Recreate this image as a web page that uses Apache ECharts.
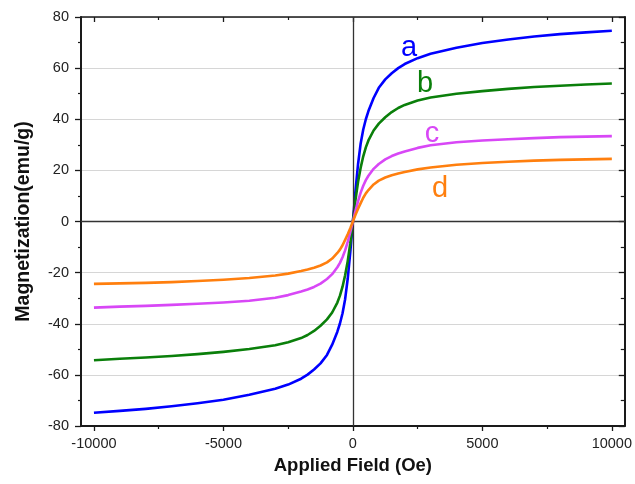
<!DOCTYPE html>
<html>
<head>
<meta charset="utf-8">
<script src="https://cdn.jsdelivr.net/npm/echarts@6/dist/echarts.min.js"></script>
<style>html,body{margin:0;padding:0;background:#fff}#c{width:635px;height:484px}</style>
</head>
<body>
<div id="c"></div>
<script>
// Field values (Oe)
var fields = [-10000,-9000,-8000,-7000,-6000,-5000,-4000,-3000,-2500,-2000,-1750,-1500,-1250,-1000,-800,-600,-500,-400,-300,-200,-100,0,
              100,200,300,400,500,600,800,1000,1250,1500,1750,2000,2500,3000,4000,5000,6000,7000,8000,9000,10000];
// Magnetization (emu/g) per sample
var seriesA = [-74.8,-74.1,-73.3,-72.3,-71.1,-69.7,-67.8,-65.4,-63.8,-61.5,-59.9,-57.9,-55.5,-52.2,-48.2,-43.1,-39.9,-35.9,-30.4,-22.4,-11.9,0,
               12.0,22.5,30.5,36.0,40.0,43.2,48.3,52.3,55.6,58.0,60.0,61.6,63.9,65.6,68.0,69.8,71.2,72.4,73.3,74.0,74.6];
var seriesB = [-54.3,-53.7,-53.2,-52.6,-51.9,-51.0,-49.9,-48.4,-47.2,-45.6,-44.4,-42.8,-40.8,-38.3,-35.6,-31.7,-29.0,-25.5,-21.0,-15.5,-8.5,0,
               8.5,15.5,21.0,25.5,29.0,31.7,35.6,38.3,40.8,42.8,44.4,45.6,47.3,48.5,50.0,51.0,51.9,52.6,53.1,53.6,54.0];
var seriesC = [-33.7,-33.3,-33.0,-32.6,-32.2,-31.7,-31.0,-29.8,-28.8,-27.4,-26.6,-25.6,-24.3,-22.5,-20.6,-17.9,-16.2,-14.0,-11.3,-8.0,-4.2,0,
               4.2,8.0,11.3,14.0,16.2,17.9,20.6,22.5,24.3,25.6,26.6,27.4,28.8,29.8,31.0,31.7,32.2,32.6,33.0,33.2,33.4];
var seriesD = [-24.4,-24.2,-24.0,-23.7,-23.3,-22.8,-22.1,-21.1,-20.4,-19.4,-18.8,-18.1,-17.2,-16.0,-14.5,-12.3,-11.0,-9.3,-7.2,-5.0,-2.6,0,
               2.6,5.0,7.2,9.3,11.0,12.3,14.5,16.0,17.2,18.1,18.8,19.4,20.4,21.1,22.2,22.9,23.4,23.8,24.1,24.3,24.5];
var seriesNames = ['a','b','c','d'];
var seriesColors = ['#0000ff','#0a7f0a','#d847f6','#ff7f0e'];
// Tick values
var xMajorTicks = [-10000,-5000,0,5000,10000];
var xMinorTicks = [-7500,-2500,2500,7500];

function pairs(ys){ return fields.map(function(x,i){ return [x, ys[i]]; }); }

var chart = echarts.init(document.getElementById('c'), null, {renderer:'canvas'});
var axisColor = '#1a1a1a';
var font = 'Liberation Sans, Arial, sans-serif';
var lineSeries = [seriesA, seriesB, seriesC, seriesD].map(function(ys, i){
  return {
    type:'line', name:seriesNames[i], data:pairs(ys), showSymbol:false, symbol:'none',
    smooth:false, lineStyle:{color:seriesColors[i], width:2.6, join:'round'}, itemStyle:{color:seriesColors[i]},
    z:3 + i, animation:false
  };
});
lineSeries.unshift({
  type:'line', data:[], z:1, silent:true, animation:false,
  markLine:{silent:true, symbol:'none', animation:false, label:{show:false},
    lineStyle:{color:'#333333', width:1.3, type:'solid'},
    data:[{xAxis:0},{yAxis:0}]}
});

var plainNum = function(v){ return String(v); };

var option = {
  animation:false,
  backgroundColor:'#ffffff',
  grid:{left:81, right:9, top:17, bottom:58, containLabel:false},
  xAxis:[
    {type:'value', min:-10500, max:10500, position:'bottom',
     name:'Applied Field (Oe)', nameLocation:'middle', nameGap:30,
     nameTextStyle:{fontFamily:font, fontWeight:'bold', fontSize:18.5, color:'#111'},
     axisLine:{show:true, onZero:false, lineStyle:{color:axisColor, width:2}},
     axisTick:{show:true, inside:false, length:5, customValues:xMajorTicks, lineStyle:{color:axisColor, width:1.3}},
     axisLabel:{show:true, customValues:xMajorTicks, formatter:plainNum, margin:10, fontFamily:font, fontSize:14.5, color:'#222'},
     splitLine:{show:false}},
    {type:'value', min:-10500, max:10500, position:'bottom',
     axisLine:{show:false, onZero:false},
     axisTick:{show:true, inside:false, length:3, customValues:xMinorTicks, lineStyle:{color:axisColor, width:1.2}},
     axisLabel:{show:false}, splitLine:{show:false}},
    {type:'value', min:-10500, max:10500, position:'top',
     axisLine:{show:true, onZero:false, lineStyle:{color:axisColor, width:1.6}},
     axisTick:{show:true, inside:true, length:5, customValues:xMajorTicks, lineStyle:{color:axisColor, width:1.3}},
     axisLabel:{show:false}, splitLine:{show:false}},
    {type:'value', min:-10500, max:10500, position:'top',
     axisLine:{show:false, onZero:false},
     axisTick:{show:true, inside:true, length:3, customValues:xMinorTicks, lineStyle:{color:axisColor, width:1.2}},
     axisLabel:{show:false}, splitLine:{show:false}}
  ],
  yAxis:[
    {type:'value', min:-80, max:80, interval:20, position:'left',
     name:'Magnetization(emu/g)', nameLocation:'middle', nameGap:47, nameRotate:90,
     nameTextStyle:{fontFamily:font, fontWeight:'bold', fontSize:19.5, color:'#111'},
     axisLine:{show:true, onZero:false, lineStyle:{color:axisColor, width:2}},
     axisTick:{show:true, inside:false, length:6, lineStyle:{color:axisColor, width:1.3}},
     minorTick:{show:true, splitNumber:2, length:3, lineStyle:{color:axisColor, width:1.2}},
     axisLabel:{show:true, margin:12, formatter:plainNum, fontFamily:font, fontSize:14.5, color:'#222'},
     splitLine:{show:true, lineStyle:{color:'#d6d6d6', width:1}}},
    {type:'value', min:-80, max:80, interval:20, position:'right',
     axisLine:{show:true, onZero:false, lineStyle:{color:axisColor, width:2}},
     axisTick:{show:true, inside:true, length:6, lineStyle:{color:axisColor, width:1.3}},
     minorTick:{show:true, splitNumber:2, length:4, lineStyle:{color:axisColor, width:1.2}},
     axisLabel:{show:false}, splitLine:{show:false}}
  ],
  series: lineSeries,
  graphic:[
    {type:'text', x:409, y:48, style:{text:'a', fill:seriesColors[0], font:'29px '+font, textAlign:'center', textVerticalAlign:'middle'}},
    {type:'text', x:425, y:84, style:{text:'b', fill:seriesColors[1], font:'29px '+font, textAlign:'center', textVerticalAlign:'middle'}},
    {type:'text', x:432, y:134, style:{text:'c', fill:seriesColors[2], font:'29px '+font, textAlign:'center', textVerticalAlign:'middle'}},
    {type:'text', x:440, y:189, style:{text:'d', fill:seriesColors[3], font:'29px '+font, textAlign:'center', textVerticalAlign:'middle'}}
  ]
};
chart.setOption(option);
</script>
</body>
</html>
